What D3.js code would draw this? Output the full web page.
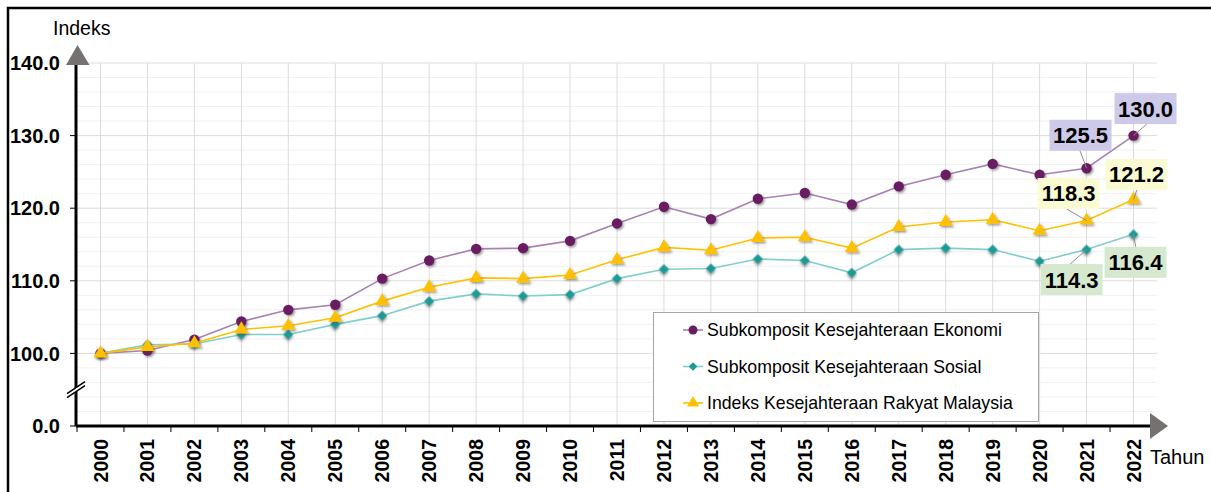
<!DOCTYPE html>
<html>
<head>
<meta charset="utf-8">
<script src="https://cdn.jsdelivr.net/npm/d3@7"></script>
<style>
  body { margin: 0; background: #fff; }
  svg { display: block; font-family: "Liberation Sans", Arial, sans-serif; }
</style>
</head>
<body>
<div id="chart"></div>
<script>
// data
var years = [2000, 2001, 2002, 2003, 2004, 2005, 2006, 2007, 2008, 2009, 2010, 2011,
             2012, 2013, 2014, 2015, 2016, 2017, 2018, 2019, 2020, 2021, 2022];
var ekonomi = [100.0, 100.4, 101.9, 104.4, 106.0, 106.7, 110.3, 112.8, 114.4, 114.5, 115.5, 117.9,
               120.2, 118.5, 121.3, 122.1, 120.5, 123.0, 124.6, 126.1, 124.6, 125.5, 130.0];
var sosial = [100.0, 101.2, 101.3, 102.6, 102.6, 104.0, 105.2, 107.2, 108.2, 107.9, 108.1, 110.3,
              111.6, 111.7, 113.0, 112.8, 111.1, 114.3, 114.5, 114.3, 112.7, 114.3, 116.4];
var indeks = [100.0, 100.9, 101.4, 103.3, 103.8, 104.9, 107.2, 109.1, 110.4, 110.3, 110.8, 112.9,
              114.6, 114.2, 115.9, 116.0, 114.5, 117.4, 118.1, 118.4, 116.9, 118.3, 121.2];
var seriesNames = ["Subkomposit Kesejahteraan Ekonomi", "Subkomposit Kesejahteraan Sosial",
                   "Indeks Kesejahteraan Rakyat Malaysia"];
var yTickValues = [90, 100, 110, 120, 130, 140];   // 90 stands in for the broken 0.0
var yTickLabels = ["0.0", "100.0", "110.0", "120.0", "130.0", "140.0"];
var labelYears = [2021, 2022];

var width = 1211, height = 492;

var series = [
  {name: seriesNames[0], values: ekonomi, line: "#a783b3", mark: "#6a1d63", shape: d3.symbolCircle, size: 85, rot: 0, bg: "#cdc9e8"},
  {name: seriesNames[1], values: sosial, line: "#80cfcc", mark: "#1d9a96", shape: d3.symbolSquare, size: 50, rot: 45, bg: "#d6e9cf"},
  {name: seriesNames[2], values: indeks, line: "#ffc000", mark: "#ffc000", shape: d3.symbolTriangle, size: 85, rot: 0, bg: "#fafad3"}
];
// label box offsets from the point, per series, per labelled year
var labelOffsets = [
  [[-6, -33], [12, -27]],
  [[-15, 30], [2, 28]],
  [[-18, -27], [3, -25]]
];

var svg = d3.select("#chart").append("svg")
    .attr("width", width)
    .attr("height", height);

var defs = svg.append("defs");
var f = defs.append("filter").attr("id", "shadow")
    .attr("x", "-50%").attr("y", "-50%").attr("width", "200%").attr("height", "200%");
f.append("feDropShadow").attr("dx", 1.5).attr("dy", 1.5).attr("stdDeviation", 1)
    .attr("flood-color", "#444").attr("flood-opacity", 0.55);

var x = d3.scaleBand().domain(years).range([77, 1157]);
var y = d3.scaleLinear().domain([90, 140]).range([426, 63]);
var cx = function(yr) { return x(yr) + x.bandwidth() / 2; };

// outer frame
svg.append("path")
    .attr("d", "M8," + height + "V8H" + width)
    .attr("fill", "none").attr("stroke", "#000").attr("stroke-width", 2.5);

// grid
svg.append("g").selectAll("line")
    .data(d3.range(92, 140, 2).filter(function(v) { return v % 10 != 0; }))
    .enter().append("line")
    .attr("x1", 77).attr("x2", 1157)
    .attr("y1", function(d) { return y(d); }).attr("y2", function(d) { return y(d); })
    .attr("stroke", "#f1f1f1");

svg.append("g").selectAll("line")
    .data(yTickValues.slice(1))
    .enter().append("line")
    .attr("x1", 77).attr("x2", 1157)
    .attr("y1", function(d) { return y(d); }).attr("y2", function(d) { return y(d); })
    .attr("stroke", "#dcdcdc");

svg.append("g").selectAll("line")
    .data(years)
    .enter().append("line")
    .attr("x1", cx).attr("x2", cx)
    .attr("y1", y(140)).attr("y2", y(90))
    .attr("stroke", "#dcdcdc");

// y axis
svg.append("line").attr("x1", 76).attr("x2", 76).attr("y1", y(140)).attr("y2", y(90))
    .attr("stroke", "#000").attr("stroke-width", 3);
svg.append("path").attr("d", "M66," + (y(140) + 2) + "L77.5,45L89.5," + (y(140) + 2) + "Z")
    .attr("fill", "#767171");

svg.append("g").selectAll("line")
    .data(yTickValues.slice(0, -1))
    .enter().append("line")
    .attr("x1", 70).attr("x2", 76)
    .attr("y1", function(d) { return y(d); }).attr("y2", function(d) { return y(d); })
    .attr("stroke", "#000").attr("stroke-width", 1);

svg.append("g").selectAll("text")
    .data(yTickValues)
    .enter().append("text")
    .attr("x", 60).attr("y", function(d) { return y(d); })
    .attr("dy", "0.36em")
    .attr("text-anchor", "end")
    .style("font-size", "20px").style("font-weight", "bold")
    .text(function(d, i) { return yTickLabels[i]; });

svg.append("text").attr("x", 53).attr("y", 35)
    .style("font-size", "19.5px").text("Indeks");

// axis break
var by = y(95);
svg.append("path")
    .attr("d", "M67," + (by + 4) + "L85," + (by - 8) + "L85," + (by - 4) + "L67," + (by + 8) + "Z")
    .attr("fill", "#fff");
svg.append("path")
    .attr("d", "M67," + (by + 4) + "L85," + (by - 8) + "M67," + (by + 8) + "L85," + (by - 4))
    .attr("stroke", "#000").attr("stroke-width", 1.5);

// x axis
svg.append("line").attr("x1", 76).attr("x2", 1151).attr("y1", y(90)).attr("y2", y(90))
    .attr("stroke", "#000").attr("stroke-width", 3);
svg.append("path").attr("d", "M1150," + (y(90) - 13) + "L1168," + y(90) + "L1150," + (y(90) + 13) + "Z")
    .attr("fill", "#767171");

svg.append("g").selectAll("line")
    .data(years)
    .enter().append("line")
    .attr("x1", function(d) { return x(d); }).attr("x2", function(d) { return x(d); })
    .attr("y1", y(90)).attr("y2", y(90) + 6)
    .attr("stroke", "#000");

svg.append("g").selectAll("text")
    .data(years)
    .enter().append("text")
    .attr("transform", function(d) { return "translate(" + cx(d) + ",439)rotate(-90)"; })
    .attr("dy", "0.36em")
    .attr("text-anchor", "end")
    .style("font-size", "19.5px").style("font-weight", "bold")
    .text(function(d) { return d; });

svg.append("text").attr("x", 1150).attr("y", 464)
    .style("font-size", "20px").text("Tahun");

// series
var line = d3.line()
    .x(function(d, i) { return cx(years[i]); })
    .y(function(d) { return y(d); });

series.forEach(function(s) {
  var g = svg.append("g");
  g.append("path")
      .attr("d", line(s.values))
      .attr("fill", "none")
      .attr("stroke", s.line)
      .attr("stroke-width", 1.6);
  g.selectAll(".pt")
      .data(s.values)
      .enter().append("path")
      .attr("class", "pt")
      .attr("transform", function(d, i) { return "translate(" + cx(years[i]) + "," + y(d) + ")rotate(" + s.rot + ")"; })
      .attr("d", d3.symbol().type(s.shape).size(s.size))
      .attr("fill", s.mark)
      .attr("filter", "url(#shadow)");
});

// value labels
series.forEach(function(s, si) {
  labelYears.forEach(function(yr, li) {
    var i = years.indexOf(yr);
    var px = cx(yr), py = y(s.values[i]);
    var off = labelOffsets[si][li];
    var bx = px + off[0], byy = py + off[1];
    var edge = off[1] < 0 ? byy + 15.5 : byy - 15.5;
    svg.append("line")
        .attr("x1", px).attr("y1", py)
        .attr("x2", bx + off[0] * 0.1).attr("y2", edge)
        .attr("stroke", "#8c8c8c").attr("stroke-width", 1);
    svg.append("rect")
        .attr("x", bx - 31).attr("y", byy - 15.5)
        .attr("width", 62).attr("height", 31)
        .attr("fill", s.bg);
    svg.append("text")
        .attr("x", bx).attr("y", byy)
        .attr("dy", "0.36em")
        .attr("text-anchor", "middle")
        .style("font-size", "22px").style("font-weight", "bold")
        .text(d3.format(".1f")(s.values[i]));
  });
});

// legend
var legend = svg.append("g");
legend.append("rect")
    .attr("x", 653.5).attr("y", 312.5).attr("width", 385).attr("height", 109)
    .attr("fill", "#fff").attr("stroke", "#a6a6a6");
var ly = d3.scalePoint().domain(seriesNames).range([330, 403]);
series.forEach(function(s) {
  var g = legend.append("g").attr("transform", "translate(0," + ly(s.name) + ")");
  g.append("line").attr("x1", 683).attr("x2", 703)
      .attr("stroke", s.line).attr("stroke-width", 1.6);
  g.append("path").attr("transform", "translate(693,0)rotate(" + s.rot + ")")
      .attr("d", d3.symbol().type(s.shape).size(s.size * 0.75))
      .attr("fill", s.mark);
  g.append("text").attr("x", 707).attr("dy", "0.36em")
      .style("font-size", "17.7px")
      .text(s.name);
});
</script>
</body>
</html>
